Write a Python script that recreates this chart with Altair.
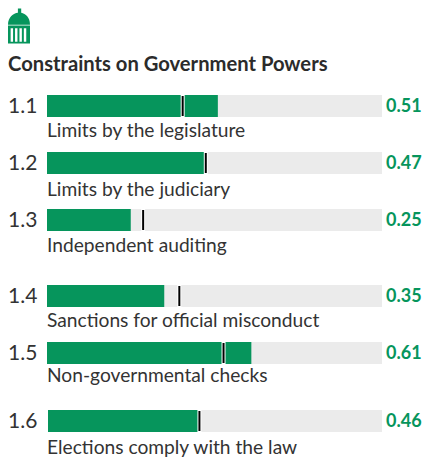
import altair as alt
import pandas as pd

codes = ["1.1", "1.2", "1.3", "1.4", "1.5", "1.6"]
names = ["Limits by the legislature", "Limits by the judiciary", "Independent auditing",
         "Sanctions for official misconduct", "Non-governmental checks", "Elections comply with the law"]
score_labels = ["0.51", "0.47", "0.25", "0.35", "0.61", "0.46"]
bar_starts = [0, 0, 0, 0, 0, 0.003]
bar_ends = [0.51, 0.47, 0.25, 0.35, 0.61, 0.452]
markers = [0.405, 0.474, 0.287, 0.395, 0.527, 0.455]
row_pos = [106, 163, 220, 296, 353, 421]
name_pos = [131, 190, 246, 321, 376, 448]
title = "Constraints on Government Powers"

GREEN = "#06955c"
INK = "#333333"
FONT = "Lato"
# The SVG may only span page x 8..422 without being shrunk.
W, H = 414, 450
OX, OY = 8, 8

df = pd.DataFrame({"code": codes, "name": names, "start": bar_starts, "score": bar_ends, "label": score_labels,
                   "marker": markers, "row": row_pos, "name_row": name_pos, "one": [1] * 6})
df["text_row"] = df["row"] + 1
base = alt.Chart(df)

xs = alt.Scale(domain=[(OX - 47) / 335, (OX + W - 47) / 335], range=[0, W], padding=0, nice=False, zero=False)
ys = alt.Scale(domain=[OY, OY + H], range=[0, H], padding=0, nice=False, zero=False)
X = lambda f: alt.X(f, type="quantitative", scale=xs, axis=None)
Y = lambda f: alt.Y(f, type="quantitative", scale=ys, axis=None)

track = base.mark_bar(color="#ebebeb", height=22).encode(x=X("start"), x2="one", y=Y("row"))
bar = base.mark_bar(color=GREEN, height=22).encode(x=X("start"), x2="score", y=Y("row"))
halo = base.mark_tick(color="#ffffff", opacity=1, thickness=4, size=22).encode(x=X("marker"), y=Y("row"))
tick = base.mark_tick(color="#000000", opacity=1, thickness=2, size=20).encode(x=X("marker"), y=Y("row"))
code_t = base.mark_text(align="left", baseline="middle", font=FONT, fontSize=21, color=INK, dx=-39).encode(
    x=alt.X("zero:Q", scale=xs, axis=None), y=Y("text_row"), text="code").transform_calculate(zero="0")
name_t = base.mark_text(align="left", baseline="middle", font=FONT, fontSize=19.2, color=INK).encode(
    x=alt.X("zero:Q", scale=xs, axis=None), y=Y("name_row"), text="name").transform_calculate(zero="0")
val_t = base.mark_text(align="left", baseline="middle", font=FONT, fontSize=18, fontWeight="bold",
                       color=GREEN, dx=4).encode(x=X("one"), y=Y("text_row"), text="label")

title_df = pd.DataFrame({"t": [title], "px": [-39 / 335], "py": [65]})
title_t = alt.Chart(title_df).mark_text(
    align="left", baseline="middle", font=FONT, fontSize=20.2, fontWeight="bold", color="#2b2b2b"
).encode(x=X("px"), y=Y("py"), text="t")

icon_path = ("M-0.5,-0.06 C-0.5,-0.4 -0.25,-0.58 -0.05,-0.6 L-0.05,-0.8 L0.1,-0.8 L0.1,-0.6 "
             "C0.3,-0.55 0.5,-0.4 0.5,-0.06 Z "
             "M-0.5,-0.02 L0.5,-0.02 L0.5,0.8 L-0.5,0.8 Z "
             "M-0.38,0.1 L-0.38,0.72 L-0.27,0.72 L-0.27,0.1 Z "
             "M-0.18,0.1 L-0.18,0.72 L-0.07,0.72 L-0.07,0.1 Z "
             "M0.02,0.1 L0.02,0.72 L0.13,0.72 L0.13,0.1 Z "
             "M0.22,0.1 L0.22,0.72 L0.33,0.72 L0.33,0.1 Z")
icon_df = pd.DataFrame({"px": [-28 / 335], "py": [26]})
icon = alt.Chart(icon_df).mark_point(
    shape=icon_path, filled=True, color=GREEN, opacity=1, size=1936, strokeWidth=0
).encode(x=X("px"), y=Y("py"))

chart = alt.layer(track, bar, halo, tick, code_t, name_t, val_t, title_t, icon).properties(
    width=W, height=H, autosize=alt.AutoSizeParams(type="none"), padding=0
).configure_view(stroke=None)

chart.save("out.html", embed_options={"renderer": "svg", "actions": False})
